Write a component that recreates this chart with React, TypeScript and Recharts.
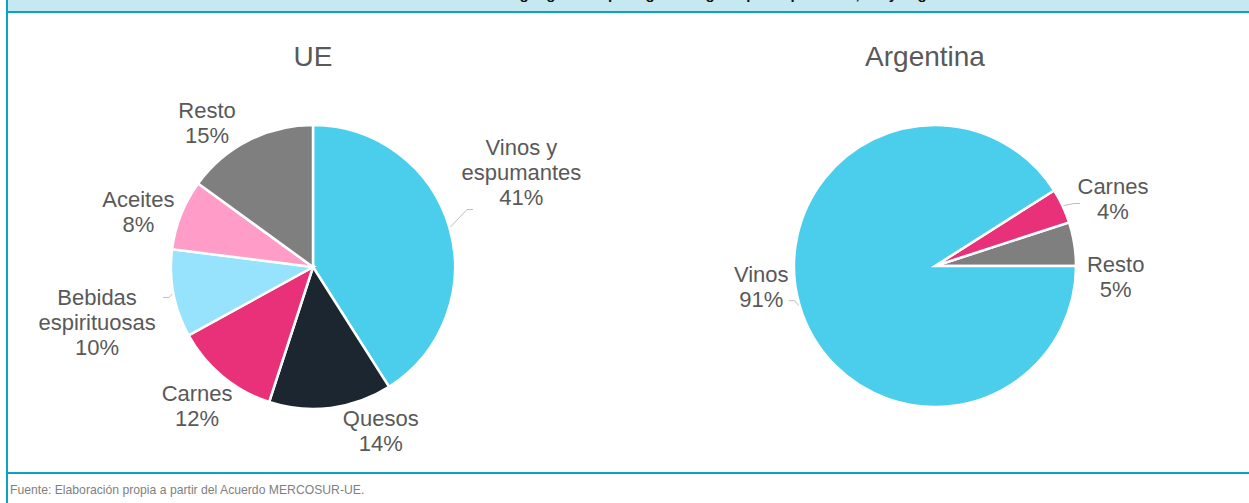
import React from 'react';
import { PieChart, Pie, Cell } from 'recharts';

// ---- data ----
const ueCategories = ['Vinos y\nespumantes', 'Quesos', 'Carnes', 'Bebidas\nespirituosas', 'Aceites', 'Resto'];
const ueValues = [41, 14, 12, 10, 8, 15];
const argCategories = ['Resto', 'Carnes', 'Vinos'];
const argValues = [5, 4, 91];

const ueData = ueCategories.map((name, i) => ({ name, value: ueValues[i] }));
const argData = argCategories.map((name, i) => ({ name, value: argValues[i] }));

// ---- styles ----
const COLORS: Record<string, string> = {
  'Vinos y\nespumantes': '#4BCEEC',
  Vinos: '#4BCEEC',
  Quesos: '#1C2630',
  Carnes: '#E9317A',
  'Bebidas\nespirituosas': '#97E2FC',
  Aceites: '#FF9CC7',
  Resto: '#7F7F7F',
};

// label placement: angular nudge (deg) and distance beyond the pie edge
const LABEL_LAYOUT: Record<string, { da: number; extra: number; leader?: boolean }> = {
  'UE|Vinos y\nespumantes': { da: 8.3, extra: 87, leader: true },
  'UE|Quesos': { da: 15.3, extra: 35 },
  'UE|Carnes': { da: -0.2, extra: 39 },
  'UE|Bebidas\nespirituosas': { da: 3.7, extra: 81, leader: true },
  'UE|Aceites': { da: 4.2, extra: 41 },
  'UE|Resto': { da: 9.3, extra: 37 },
  'AR|Vinos': { da: -9.3, extra: 34, leader: true },
  'AR|Carnes': { da: -4.7, extra: 49, leader: true },
  'AR|Resto': { da: -12.5, extra: 40 },
};

const FONT = "'Liberation Sans', Arial, sans-serif";
const TEXT = '#595959';
const LABEL_SIZE = 22;
const LINE_H = 25;

const makeLabel = (key: string) => (props: any) => {
  const { cx, cy, midAngle, outerRadius, payload, value } = props;
  const name: string = payload && payload.name != null ? payload.name : props.name;
  const lay = LABEL_LAYOUT[key + '|' + name] || { da: 0, extra: 40 };
  const RAD = Math.PI / 180;
  const a = (midAngle + lay.da) * RAD;
  const d = outerRadius + lay.extra;
  const lx = cx + d * Math.cos(a);
  const ly = cy - d * Math.sin(a);
  const lines = [...name.split('\n'), `${value}%`];
  const top = ly - ((lines.length - 1) * LINE_H) / 2;
  let leader: React.ReactNode = null;
  if (lay.leader) {
    const m = midAngle * RAD;
    const ex = cx + (outerRadius + 1) * Math.cos(m);
    const ey = cy - (outerRadius + 1) * Math.sin(m);
    const vx = ex - lx;
    const vy = ey - ly;
    const maxLen = Math.max(...lines.map((l) => l.length));
    const halfW = maxLen * LABEL_SIZE * 0.25;
    const halfH = (lines.length * LINE_H) / 2;
    const t = Math.min(halfW / Math.abs(vx || 1e-6), halfH / Math.abs(vy || 1e-6));
    const endX = lx + vx * t;
    const endY = ly + vy * t;
    const hx = endX + (vx > 0 ? 6 : -6);
    leader = (
      <polyline
        points={`${ex},${ey} ${hx},${endY} ${endX},${endY}`}
        fill="none"
        stroke="#BFBFBF"
        strokeWidth={1}
      />
    );
  }
  return (
    <g>
      {leader}
      {lines.map((l, i) => (
        <text
          key={i}
          x={lx}
          y={top + i * LINE_H}
          textAnchor="middle"
          dominantBaseline="central"
          fill={TEXT}
          fontFamily={FONT}
          fontSize={LABEL_SIZE}
        >
          {l}
        </text>
      ))}
    </g>
  );
};

const abs = (s: React.CSSProperties): React.CSSProperties => ({ position: 'absolute', ...s });

export default function App() {
  return (
    <div style={{ position: 'fixed', left: 0, top: 0, width: 1249, height: 503, background: '#fff', overflow: 'hidden', fontFamily: FONT }}>
      <div style={abs({ left: 0, top: 0 })}>
        <PieChart width={1249} height={503} margin={{ top: 0, right: 0, bottom: 0, left: 0 }}>
          <Pie
            data={ueData}
            dataKey="value"
            nameKey="name"
            cx={313}
            cy={267}
            outerRadius={142}
            startAngle={90}
            endAngle={-270}
            stroke="#FFFFFF"
            strokeWidth={2.5}
            label={makeLabel('UE')}
            labelLine={false}
            isAnimationActive={false}
          >
            {ueData.map((d) => (
              <Cell key={d.name} fill={COLORS[d.name]} />
            ))}
          </Pie>
          <Pie
            data={argData}
            dataKey="value"
            nameKey="name"
            cx={935}
            cy={266}
            outerRadius={141}
            startAngle={0}
            endAngle={360}
            stroke="#FFFFFF"
            strokeWidth={2.5}
            label={makeLabel('AR')}
            labelLine={false}
            isAnimationActive={false}
          >
            {argData.map((d) => (
              <Cell key={d.name} fill={COLORS[d.name]} />
            ))}
          </Pie>
        </PieChart>
      </div>

      {/* titles */}
      <div style={abs({ left: 213, width: 200, top: 40, textAlign: 'center', fontSize: 28, lineHeight: '34px', color: TEXT })}>UE</div>
      <div style={abs({ left: 825, width: 200, top: 40, textAlign: 'center', fontSize: 28, lineHeight: '34px', color: TEXT })}>Argentina</div>

      {/* frame */}
      <div style={abs({ left: 8, top: 0, width: 1241, height: 11, background: '#C6E8F1', overflow: 'hidden' })}>
        <div style={abs({ left: 0, width: 1241, top: -14, textAlign: 'center', fontSize: 15, lineHeight: '16px', fontWeight: 'bold', color: '#111' })}>
          Distribución de las indicaciones geográficas protegidas según tipo de producto, UE y Argentina
        </div>
      </div>
      <div style={abs({ left: 8, top: 11, width: 1241, height: 2, background: '#0AA2C5' })} />
      <div style={abs({ left: 6, top: 0, width: 2, height: 503, background: '#0AA2C5' })} />
      <div style={abs({ left: 6, top: 472, width: 1243, height: 2, background: '#0AA2C5' })} />

      {/* source */}
      <div style={abs({ left: 10, top: 483, fontSize: 12.2, lineHeight: '15px', color: '#7F7F7F', whiteSpace: 'nowrap' })}>
        Fuente: Elaboración propia a partir del Acuerdo MERCOSUR-UE.
      </div>
    </div>
  );
}
